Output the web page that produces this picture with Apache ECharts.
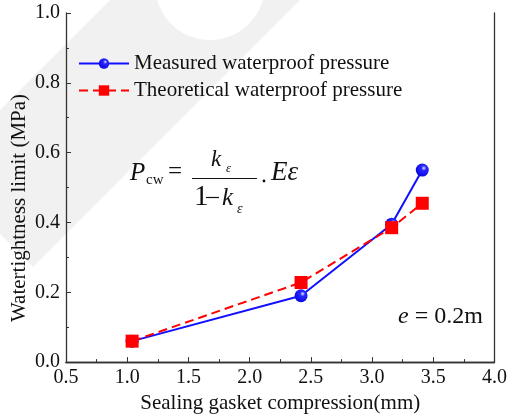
<!DOCTYPE html>
<html>
<head>
<meta charset="utf-8">
<script src="https://cdn.jsdelivr.net/npm/echarts@6/dist/echarts.min.js"></script>
<style>
  html, body { margin: 0; padding: 0; background: #fff; }
  #main { width: 510px; height: 419px; }
</style>
</head>
<body>
<div id="main"></div>
<script>
// data
var compression = [1.04, 2.42, 3.16, 3.41];
var measured = [0.06, 0.19, 0.395, 0.55];
var theoretical = [0.06, 0.228, 0.385, 0.455];
var xTicks = [0.5, 1.0, 1.5, 2.0, 2.5, 3.0, 3.5, 4.0];
var yTicks = [0.0, 0.2, 0.4, 0.6, 0.8, 1.0];

var serif = 'Liberation Serif';
var ink = '#111';
var shade = '#f1f1f1';

function pairs(xs, ys) {
  return xs.map(function (x, i) { return [x, ys[i]]; });
}

// text placed by its baseline (zrender centres the line box on y for 'middle')
function glyph(str, x, baseline, size, italic) {
  return {
    type: 'text', x: x, y: baseline - 0.33 * size,
    style: {
      text: str, font: (italic ? 'italic ' : '') + size + 'px ' + serif,
      fill: ink, verticalAlign: 'middle'
    }
  };
}

var ball = {
  type: 'radial', x: 0.62, y: 0.35, r: 0.75,
  colorStops: [
    { offset: 0, color: '#e8e8ff' },
    { offset: 0.25, color: '#2a2aff' },
    { offset: 1, color: '#0000d8' }
  ]
};

var chart = echarts.init(document.getElementById('main'), null, { renderer: 'canvas' });

var annotation = glyph('{i|e} = 0.2m', 398, 325, 24, false);
annotation.style.rich = { i: { fontStyle: 'italic', fontFamily: serif, fontSize: 24 } };

var option = {
  backgroundColor: '#fff',
  animation: false,
  textStyle: { fontFamily: serif },
  grid: { left: 66, right: 9, top: 13, bottom: 53, show: false },
  legend: {
    orient: 'vertical',
    left: 73,
    top: 48,
    itemWidth: 50,
    itemHeight: 13,
    itemGap: 6,
    textStyle: { fontFamily: serif, fontSize: 21, color: ink },
    data: ['Measured waterproof pressure', 'Theoretical waterproof pressure']
  },
  xAxis: [{
    type: 'value', min: 0.5, max: 4.0, interval: 0.5,
    name: 'Sealing gasket compression(mm)',
    nameLocation: 'middle', nameGap: 29,
    nameTextStyle: { fontFamily: serif, fontSize: 21, color: ink },
    axisLine: { lineStyle: { color: '#333', width: 1.3 } },
    axisTick: { inside: true, length: 5, lineStyle: { color: '#333' } },
    minorTick: { show: true, splitNumber: 2, length: 3, lineStyle: { color: '#333' } },
    splitLine: { show: false },
    axisLabel: {
      fontFamily: serif, fontSize: 20, color: ink, margin: 6,
      formatter: function (v) { return v.toFixed(1); }
    }
  }, {
    type: 'value', min: 0.5, max: 4.0, position: 'top',
    axisLine: { show: true, lineStyle: { color: '#333', width: 1.3 } },
    axisTick: { show: false }, axisLabel: { show: false }, splitLine: { show: false }
  }],
  yAxis: [{
    type: 'value', min: 0, max: 1.0, interval: 0.2,
    axisLine: { show: true, lineStyle: { color: '#333', width: 1.3 } },
    axisTick: { inside: true, length: 5, lineStyle: { color: '#333' } },
    minorTick: { show: true, splitNumber: 2, length: 3, lineStyle: { color: '#333' } },
    splitLine: { show: false },
    axisLabel: {
      fontFamily: serif, fontSize: 20, color: ink, margin: 6,
      formatter: function (v) { return v.toFixed(1); }
    }
  }, {
    type: 'value', min: 0, max: 1.0, position: 'right',
    axisLine: { show: true, lineStyle: { color: '#333', width: 1.3 } },
    axisTick: { show: false }, axisLabel: { show: false }, splitLine: { show: false }
  }],
  series: [{
    name: 'Measured waterproof pressure',
    type: 'line',
    data: pairs(compression, measured),
    symbol: 'circle', symbolSize: 13,
    lineStyle: { color: '#1010ff', width: 2 },
    itemStyle: { color: ball, borderWidth: 0 },
    z: 3
  }, {
    name: 'Theoretical waterproof pressure',
    type: 'line',
    data: pairs(compression, theoretical),
    symbol: 'rect', symbolSize: 13,
    lineStyle: { color: '#ff0000', width: 2, type: [9, 5] },
    itemStyle: { color: '#ff0000' },
    z: 4
  }],
  graphic: [
    // faint watermark behind the figure
    { type: 'polygon', z: -2, silent: true,
      shape: { points: [[110, 0], [300, 0], [33, 267], [0, 234], [0, 110]] },
      style: { fill: shade } },
    { type: 'circle', z: -1, silent: true,
      shape: { cx: 210, cy: -15, r: 55 }, style: { fill: '#fff' } },
    // y axis title, sits a bit below the plot centre in the original
    { type: 'text', x: 19, y: 208, rotation: Math.PI / 2,
      style: { text: 'Watertightness limit (MPa)', font: '21px ' + serif, fill: ink, align: 'center', verticalAlign: 'middle' } },
    // formula  P_cw = k_e / (1 - k_e) . E e
    glyph('P', 130, 182, 25, true),
    glyph('cw', 146, 185, 15, false),
    glyph('=', 168, 181, 25, false),
    glyph('k', 211, 168, 23, true),
    glyph('ε', 226, 173, 13, true),
    { type: 'line', shape: { x1: 192, y1: 178.5, x2: 257, y2: 178.5 }, style: { stroke: ink, lineWidth: 1.2 } },
    glyph('1', 194, 207, 29, false),
    { type: 'line', shape: { x1: 206, y1: 197.5, x2: 219, y2: 197.5 }, style: { stroke: ink, lineWidth: 1.2 } },
    glyph('k', 222, 207, 25, true),
    glyph('ε', 237, 214, 14, true),
    { type: 'circle', shape: { cx: 264, cy: 181, r: 1.4 }, style: { fill: ink } },
    glyph('Eε', 271, 182, 27, true),
    annotation
  ]
};

chart.setOption(option);
</script>
</body>
</html>
